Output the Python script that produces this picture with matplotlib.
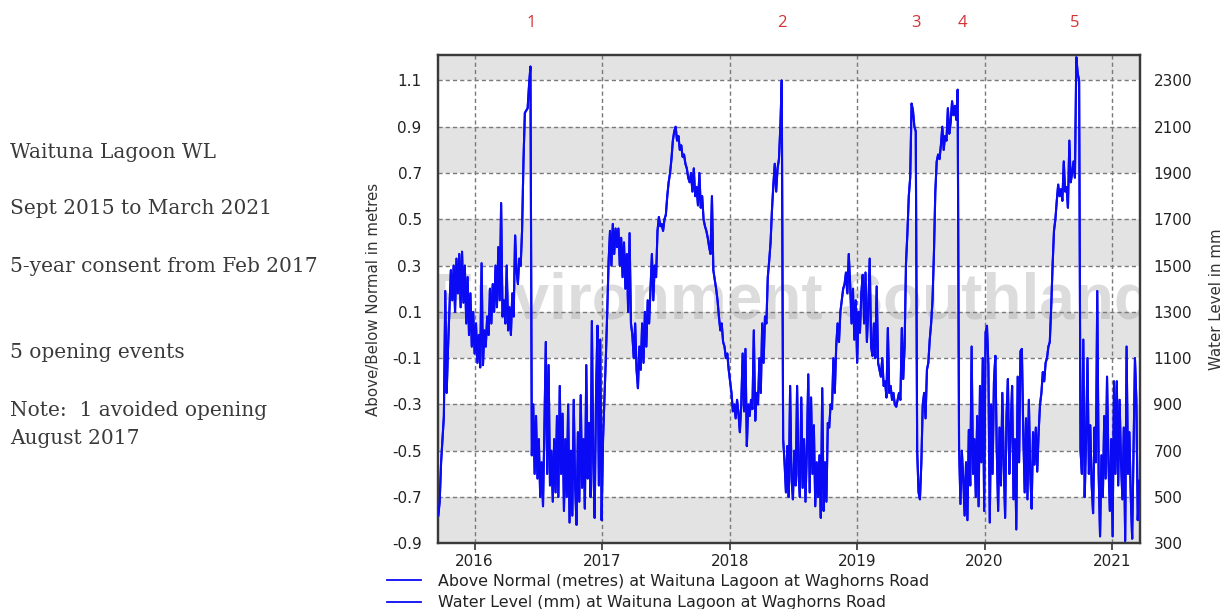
"""Waituna Lagoon water level, Sept 2015 to March 2021"""

import pandas as pd
import matplotlib
matplotlib.use('Agg')
import matplotlib.pyplot as plt
import matplotlib.dates as mdates
from matplotlib.lines import Line2D
from matplotlib.transforms import blended_transform_factory

# level above/below normal in metres, one reading every 4 days
start_date = '2015-09-19'
step_days = 4

level_sep15_jun16 = [
    -0.78, -0.72, -0.55, -0.45, -0.35, 0.19, -0.25, -0.05,
    0.12, 0.28, 0.15, 0.30, 0.10, 0.33, 0.18, 0.35,
    0.12, 0.36, 0.14, 0.30, 0.05, 0.25, 0.00, 0.18,
    -0.05, 0.10, -0.08, 0.05, -0.12, 0.00, -0.14, 0.31,
    -0.13, 0.02, -0.05, 0.08, 0.00, 0.20, 0.05, 0.22,
    0.10, 0.30, 0.12, 0.38, 0.15, 0.57, 0.08, 0.15,
    0.05, 0.30, 0.02, 0.12, 0.00, 0.18, 0.08, 0.43,
    0.28, 0.22, 0.33, 0.30, 0.45, 0.75, 0.96, 0.97,
    0.98, 1.08, 1.16, -0.52, -0.30, -0.60, -0.35, -0.62,
]
level_jul16_jun17 = [
    -0.45, -0.70, -0.55, -0.74, -0.40, -0.03, -0.60, -0.13,
    -0.65, -0.50, -0.72, -0.45, -0.68, -0.35, -0.70, -0.22,
    -0.60, -0.34, -0.76, -0.45, -0.70, -0.30, -0.81, -0.50,
    -0.78, -0.28, -0.65, -0.82, -0.42, -0.72, -0.26, -0.66,
    -0.45, -0.75, -0.13, -0.62, -0.38, -0.70, 0.06, -0.55,
    -0.79, -0.25, 0.04, -0.65, -0.02, -0.80, -0.45, -0.28,
    -0.10, 0.10, 0.32, 0.45, 0.30, 0.48, 0.35, 0.46,
    0.38, 0.46, 0.30, 0.42, 0.25, 0.40, 0.20, 0.35,
    0.10, 0.44, 0.05, 0.00, -0.10, 0.05, -0.15, -0.23,
    -0.05, -0.15, 0.05, -0.12, 0.10, -0.05, 0.15, 0.05,
    0.20, 0.35, 0.15, 0.30, 0.25, 0.45, 0.51, 0.47,
]
level_jun17_jun18 = [
    0.48, 0.45, 0.50, 0.52, 0.60, 0.66, 0.70, 0.76,
    0.84, 0.88, 0.90, 0.84, 0.86, 0.80, 0.82, 0.77,
    0.78, 0.74, 0.72, 0.68, 0.66, 0.70, 0.62, 0.72,
    0.60, 0.64, 0.56, 0.70, 0.55, 0.60, 0.50, 0.47,
    0.45, 0.42, 0.38, 0.35, 0.60, 0.28, 0.24, 0.20,
    0.15, 0.08, 0.02, 0.05, -0.03, -0.05, -0.10, -0.08,
    -0.15, -0.20, -0.25, -0.33, -0.30, -0.36, -0.28, -0.34,
    -0.42, -0.30, -0.08, -0.33, -0.06, -0.48, -0.30, -0.35,
    -0.28, -0.32, 0.02, -0.37, -0.25, -0.30, -0.10, -0.25,
    0.05, -0.12, 0.08, 0.05, 0.25, 0.32, 0.40, 0.54,
    0.65, 0.74, 0.62, 0.72, 0.76, 0.90, 1.10, -0.45,
]
level_jun18_may19 = [
    -0.55, -0.68, -0.48, -0.70, -0.22, -0.62, -0.71, -0.50,
    -0.65, -0.22, -0.60, -0.70, -0.27, -0.66, -0.45, -0.72,
    -0.50, -0.17, -0.68, -0.27, -0.60, -0.39, -0.74, -0.55,
    -0.70, -0.52, -0.79, -0.23, -0.76, -0.55, -0.72, -0.38,
    -0.40, -0.30, -0.32, -0.10, -0.25, -0.05, 0.05, -0.03,
    0.10, 0.15, 0.20, 0.22, 0.27, 0.18, 0.35, 0.22,
    0.05, 0.20, -0.02, 0.15, -0.12, 0.10, 0.01, 0.18,
    0.26, 0.05, 0.27, -0.03, 0.12, 0.33, -0.05, -0.09,
    0.05, -0.10, 0.21, -0.12, -0.15, -0.18, -0.10, -0.22,
    -0.20, -0.27, 0.03, -0.25, -0.22, -0.28, -0.25, -0.30,
    -0.31, -0.28, -0.25, -0.28, 0.03, -0.19, -0.05, 0.31,
]
level_may19_mar20 = [
    0.44, 0.60, 0.68, 1.00, 0.97, 0.90, 0.88, -0.50,
    -0.68, -0.71, -0.55, -0.30, -0.25, -0.36, -0.15, -0.12,
    -0.02, 0.05, 0.15, 0.35, 0.62, 0.75, 0.78, 0.76,
    0.82, 0.90, 0.80, 0.86, 0.84, 0.98, 0.87, 0.92,
    1.01, 0.95, 0.99, 0.93, 1.06, -0.48, -0.73, -0.50,
    -0.62, -0.78, -0.55, -0.80, -0.41, -0.65, -0.05, -0.60,
    -0.45, -0.70, -0.35, -0.74, -0.22, -0.55, -0.10, -0.76,
    0.01, 0.04, -0.13, -0.81, -0.30, -0.60, -0.20, -0.09,
    -0.49, -0.76, -0.40, -0.65, -0.25, -0.55, -0.79, -0.35,
    -0.19, -0.60, -0.40, -0.22, -0.71, -0.45, -0.84, -0.18,
]
level_apr20_mar21 = [
    -0.55, -0.07, -0.06, -0.42, -0.68, -0.36, -0.71, -0.28,
    -0.60, -0.75, -0.42, -0.56, -0.40, -0.59, -0.42, -0.30,
    -0.25, -0.16, -0.20, -0.12, -0.10, -0.05, -0.03, 0.12,
    0.30, 0.45, 0.50, 0.58, 0.65, 0.60, 0.63, 0.58,
    0.75, 0.62, 0.64, 0.55, 0.84, 0.66, 0.70, 0.75,
    0.68, 1.20, 1.13, 1.10, -0.50, -0.60, -0.02, -0.70,
    -0.45, -0.10, -0.60, -0.39, -0.65, -0.77, -0.40, -0.55,
    0.19, -0.60, -0.87, -0.52, -0.70, -0.35, -0.62, -0.18,
    -0.55, -0.76, -0.45, -0.87, -0.20, -0.60, -0.20, -0.65,
    -0.28, -0.55, -0.71, -0.40, -0.89, -0.05, -0.60, -0.42,
    -0.70, -0.88, -0.50, -0.10, -0.28, -0.80, -0.63,
]

# normal level sits 1200 mm above the gauge zero
datum_mm = 1200

left_ticks = [-0.9, -0.7, -0.5, -0.3, -0.1, 0.1, 0.3, 0.5, 0.7, 0.9, 1.1]
right_ticks = [300, 500, 700, 900, 1100, 1300, 1500, 1700, 1900, 2100, 2300]

opening_dates = ['2016-06-12', '2018-05-30', '2019-06-19', '2019-10-31', '2020-09-15']
opening_labels = ['1', '2', '3', '4', '5']

notes = ['Waituna Lagoon WL', 'Sept 2015 to March 2021', '5-year consent from Feb 2017',
         '5 opening events', 'Note:  1 avoided opening', 'August 2017']
notes_y = [152, 209, 267, 353, 410, 438]

BLUE = '#0a0af5'


def build_series():
    values = (level_sep15_jun16 + level_jul16_jun17 + level_jun17_jun18
              + level_jun18_may19 + level_may19_mar20 + level_apr20_mar21)
    dates = pd.date_range(start_date, periods=len(values), freq=f'{step_days}D')
    return pd.Series(values, index=dates)


def plot_waituna_levels():
    level = build_series()
    level_mm = (level + datum_mm / 1000) * 1000

    W, H = 1223, 609
    fig = plt.figure(figsize=(W / 100, H / 100), dpi=100)
    ax = fig.add_axes([438.3 / W, 1 - 543.3 / H, 701.2 / W, 488.3 / H])

    ylo, yhi = -0.897, 1.21
    ax.set_ylim(ylo, yhi)
    ax.set_xlim(pd.Timestamp('2015-09-19'), pd.Timestamp('2021-03-20'))

    # alternate grey bands between the grid lines
    edges = [-1.1] + left_ticks + [1.3]
    for i in range(len(edges) - 1):
        if i % 2 == 1:
            ax.axhspan(edges[i], edges[i + 1], color='#e3e3e3', lw=0, zorder=0)

    ax.text(-0.009, 0.461, 'Environment Southland', transform=ax.transAxes,
            ha='left', va='baseline', fontsize=46, fontweight='bold',
            family='Liberation Sans', color='#a0a0a0', alpha=0.36,
            zorder=1, clip_on=True)

    ax.plot(level.index, level.values, color=BLUE, lw=1.5, zorder=3)

    ax.xaxis.set_major_locator(mdates.YearLocator())
    ax.xaxis.set_major_formatter(mdates.DateFormatter('%Y'))
    ax.set_yticks(left_ticks)
    ax.set_yticklabels([f'{t:.1f}' for t in left_ticks])
    ax.grid(True, color='#7a7a7a', lw=1.0, ls=(0, (3, 2.2)), zorder=2)
    ax.set_axisbelow(False)
    for line in ax.get_xgridlines() + ax.get_ygridlines():
        line.set_zorder(2)

    ax.tick_params(axis='x', direction='out', length=5, width=1.2,
                   color='#333333', pad=3, labelsize=11, labelcolor='#222222')
    ax.tick_params(axis='y', length=0, pad=12, labelsize=11, labelcolor='#222222')
    for lab in ax.get_xticklabels() + ax.get_yticklabels():
        lab.set_family('DejaVu Sans')
    for sp in ax.spines.values():
        sp.set_color('#3a3a3a')
        sp.set_linewidth(1.6)
    ax.set_ylabel('Above/Below Normal in metres', fontsize=10.8,
                  family='DejaVu Sans', color='#333333', labelpad=8)

    ax2 = ax.twinx()
    ax2.set_ylim((ylo * 1000) + datum_mm, (yhi * 1000) + datum_mm)
    ax2.plot(level_mm.index, level_mm.values, color=BLUE, lw=1.5, zorder=3)
    ax2.set_yticks(right_ticks)
    ax2.tick_params(axis='y', length=0, pad=10, labelsize=11, labelcolor='#222222')
    for lab in ax2.get_yticklabels():
        lab.set_family('DejaVu Sans')
    for sp in ax2.spines.values():
        sp.set_color('#3a3a3a')
        sp.set_linewidth(1.6)
    ax2.set_ylabel('Water Level in mm', fontsize=10.8, family='DejaVu Sans',
                   color='#333333', labelpad=12)

    # opening event numbers above the plot
    trans = blended_transform_factory(ax.transData, fig.transFigure)
    for d, lab in zip(opening_dates, opening_labels):
        ax.text(pd.Timestamp(d), 1 - 23 / H, lab, transform=trans, ha='center',
                va='center', fontsize=12, family='Open Sans', color='#d03236')

    handles = [Line2D([], [], color=BLUE, lw=1.3), Line2D([], [], color=BLUE, lw=1.3)]
    fig.legend(handles,
               ['Above Normal (metres) at Waituna Lagoon at Waghorns Road',
                'Water Level (mm) at Waituna Lagoon at Waghorns Road'],
               loc='upper left', bbox_to_anchor=(387 / W, 1 - 574 / H),
               frameon=False, handlelength=2.15, handletextpad=1.05,
               labelspacing=0.4, borderpad=0, borderaxespad=0,
               prop={'family': 'DejaVu Sans', 'size': 11.4}, labelcolor='#222222')

    for text, y in zip(notes, notes_y):
        fig.text(10 / W, 1 - y / H, text, ha='left', va='center', fontsize=14.5,
                 family='DejaVu Serif', color='#3a3a3a')

    fig.savefig('out.png', dpi=100)


if __name__ == "__main__":
    plot_waituna_levels()
